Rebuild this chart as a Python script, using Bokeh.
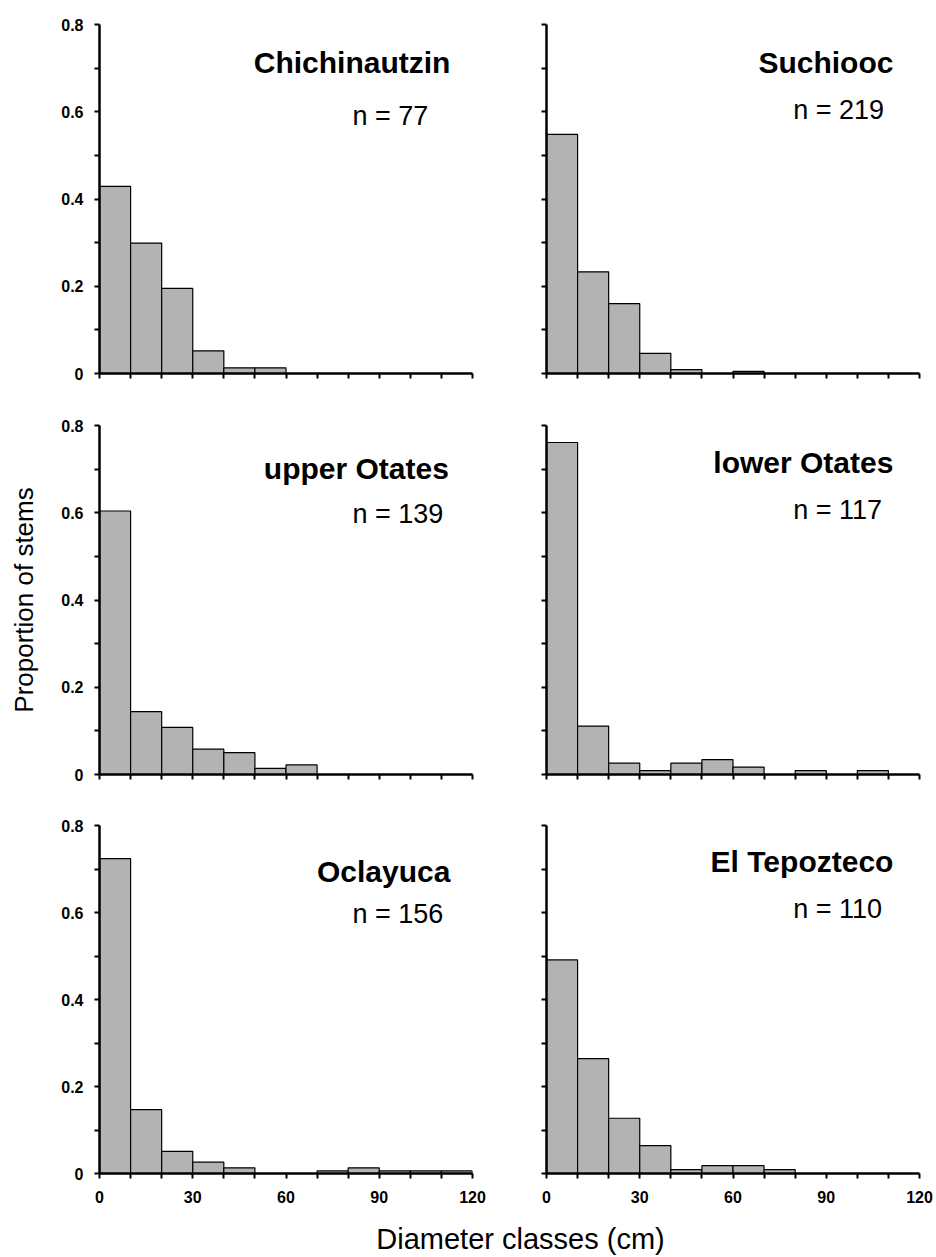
from bokeh.plotting import figure
from bokeh.layouts import column, row
from bokeh.models import Range1d, FixedTicker
from bokeh.embed import file_html
from bokeh.resources import INLINE
from bokeh.core.properties import value

# ---------------- data ----------------
bin_left = [0, 10, 20, 30, 40, 50, 60, 70, 80, 90, 100, 110]
bin_right = [10, 20, 30, 40, 50, 60, 70, 80, 90, 100, 110, 120]

sites = ["Chichinautzin", "Suchiooc", "upper Otates", "lower Otates", "Oclayuca", "El Tepozteco"]
n_labels = ["n = 77", "n = 219", "n = 139", "n = 117", "n = 156", "n = 110"]

prop_chichinautzin = [0.429, 0.299, 0.195, 0.052, 0.013, 0.013, 0, 0, 0, 0, 0, 0]
prop_suchiooc = [0.548, 0.233, 0.160, 0.046, 0.009, 0, 0.005, 0, 0, 0, 0, 0]
prop_upper_otates = [0.604, 0.144, 0.108, 0.058, 0.050, 0.014, 0.022, 0, 0, 0, 0, 0]
prop_lower_otates = [0.761, 0.111, 0.026, 0.009, 0.026, 0.034, 0.017, 0, 0.009, 0, 0.009, 0]
prop_oclayuca = [0.724, 0.147, 0.051, 0.026, 0.013, 0, 0, 0.006, 0.013, 0.006, 0.006, 0.006]
prop_el_tepozteco = [0.491, 0.264, 0.127, 0.064, 0.009, 0.018, 0.018, 0.009, 0, 0, 0, 0]

x_ticks = [0, 30, 60, 90, 120]
x_tick_labels = ["0", "30", "60", "90", "120"]
x_minor_ticks = [10, 20, 40, 50, 70, 80, 100, 110]
y_ticks = [0, 0.2, 0.4, 0.6, 0.8]
y_tick_labels = ["0", "0.2", "0.4", "0.6", "0.8"]
y_minor_ticks = [0.1, 0.3, 0.5, 0.7]

series = [prop_chichinautzin, prop_suchiooc, prop_upper_otates,
          prop_lower_otates, prop_oclayuca, prop_el_tepozteco]

# ---------------- layout / style ----------------
FONT = "Liberation Sans"
BAR_FILL = "#b3b3b3"
# (title x, title y, n x, n y) in panel data units
text_pos = [
    (112.9, 0.712, 81.4, 0.591),
    (111.6, 0.714, 79.4, 0.605),
    (112.4, 0.701, 81.4, 0.597),
    (111.6, 0.716, 79.4, 0.607),
    (112.9, 0.694, 81.4, 0.596),
    (111.6, 0.718, 79.4, 0.608),
]


def make_panel(i):
    left_col = (i % 2 == 0)
    r = i // 2
    if left_col:
        width, bl, br = 526, 99, 54
    else:
        width, bl, br = 410, 20, 17
    if r == 0:
        height, bt, bb = 400, 24, 27
    elif r == 1:
        height, bt, bb = 400, 25, 26
    else:
        height, bt, bb = 405, 25, 30
    p = figure(width=width, height=height, title=None,
               x_range=Range1d(0, 120), y_range=Range1d(0, 0.8),
               output_backend="svg", toolbar_location=None,
               min_border_left=bl, min_border_right=br,
               min_border_top=bt, min_border_bottom=bb)
    p.grid.visible = False
    p.outline_line_color = None
    p.background_fill_color = "white"
    p.border_fill_color = "white"

    p.quad(left=bin_left, right=bin_right, bottom=0, top=series[i],
           fill_color=BAR_FILL, line_color="black", line_width=1.2)

    tx, ty, nx, ny = text_pos[i]
    p.text(x=[tx], y=[ty], text=[sites[i]], text_font=value(FONT),
           text_font_style="bold", text_font_size="30px", text_color="black",
           text_align="right", text_baseline="alphabetic")
    p.text(x=[nx], y=[ny], text=[n_labels[i]], text_font=value(FONT),
           text_font_size="27px", text_color="black",
           text_align="left", text_baseline="alphabetic")

    for ax in (p.xaxis[0], p.yaxis[0]):
        ax.axis_line_width = 2.5
        ax.axis_line_color = "black"
        ax.major_tick_line_width = 2
        ax.minor_tick_line_width = 2
        ax.major_tick_line_color = "black"
        ax.minor_tick_line_color = "black"
        ax.major_tick_in = 0
        ax.major_tick_out = 5
        ax.minor_tick_in = 0
        ax.minor_tick_out = 5
        ax.major_label_text_font = FONT
        ax.major_label_text_font_style = "bold"
        ax.major_label_text_font_size = "16px"
        ax.major_label_text_color = "black"

    p.xaxis.ticker = FixedTicker(ticks=x_ticks, minor_ticks=x_minor_ticks)
    p.yaxis.ticker = FixedTicker(ticks=y_ticks, minor_ticks=y_minor_ticks)
    p.xaxis.major_label_standoff = 12
    p.yaxis.major_label_standoff = 11

    if r == 2:
        p.xaxis.major_label_overrides = dict(zip(x_ticks, x_tick_labels))
    else:
        p.xaxis.major_label_overrides = {t: "" for t in x_ticks}
    if left_col:
        p.yaxis.major_label_overrides = dict(zip(y_ticks, y_tick_labels))
    else:
        p.yaxis.major_label_overrides = {t: "" for t in y_ticks}

    if i == 2:
        p.yaxis.axis_label = "Proportion of stems"
        p.yaxis.axis_label_text_font = FONT
        p.yaxis.axis_label_text_font_style = "normal"
        p.yaxis.axis_label_text_font_size = "26px"
        p.yaxis.axis_label_text_color = "black"
        p.yaxis.axis_label_standoff = 19
    return p


panels = [make_panel(i) for i in range(6)]

# x-axis title shared by the bottom row
lab = figure(width=936, height=50, title=None,
             x_range=Range1d(0, 936), y_range=Range1d(0, 50),
             output_backend="svg", toolbar_location=None,
             min_border=0, min_border_left=0, min_border_right=0,
             min_border_top=0, min_border_bottom=0)
lab.axis.visible = False
lab.grid.visible = False
lab.outline_line_color = None
lab.text(x=[520], y=[17], text=["Diameter classes (cm)"], text_font=value(FONT),
         text_font_size="29px", text_color="black",
         text_align="center", text_baseline="alphabetic")

layout = column(row(panels[0], panels[1]),
                row(panels[2], panels[3]),
                row(panels[4], panels[5]),
                lab)

open("out.html", "w").write(file_html(layout, INLINE))
